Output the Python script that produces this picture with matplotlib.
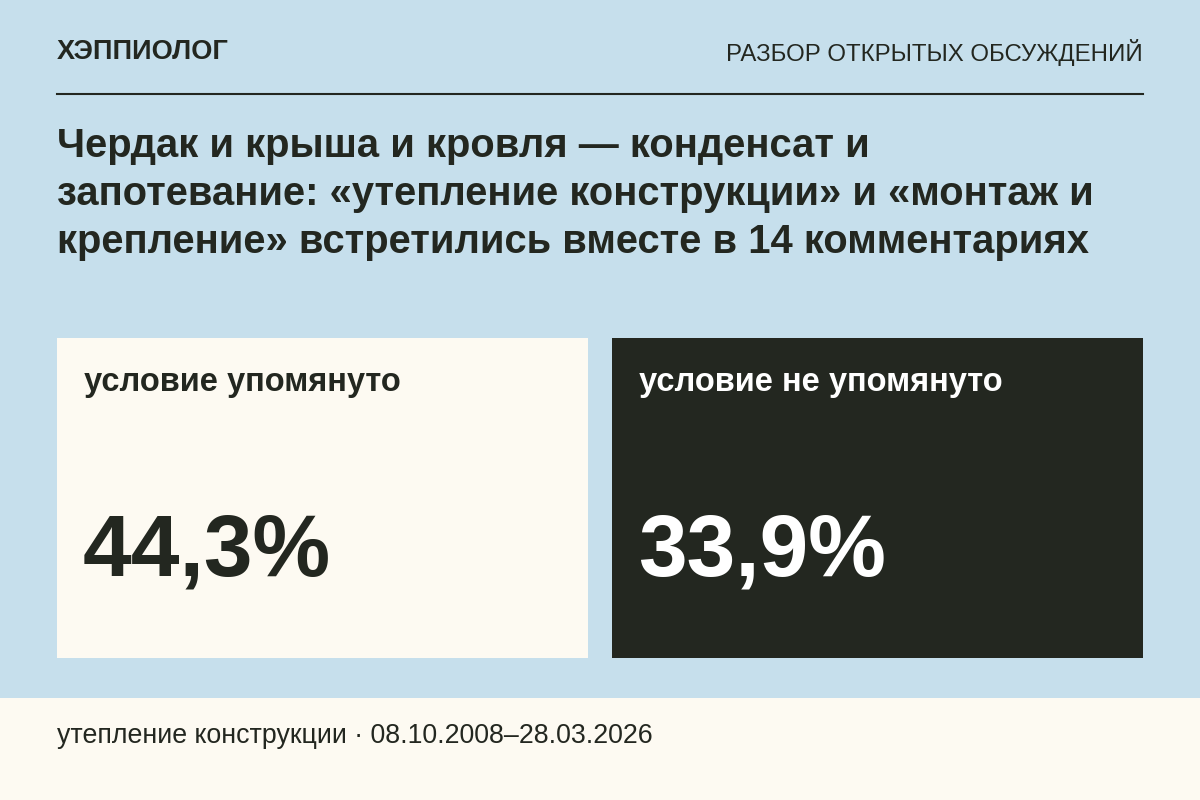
import matplotlib
matplotlib.use("Agg")
import matplotlib.pyplot as plt
from matplotlib.patches import Rectangle

plt.rcParams['font.family'] = ['Liberation Sans', 'DejaVu Sans']

brand = "ХЭППИОЛОГ"
section = "РАЗБОР ОТКРЫТЫХ ОБСУЖДЕНИЙ"
title_lines = ["Чердак и крыша и кровля — конденсат и",
               "запотевание: «утепление конструкции» и «монтаж и",
               "крепление» встретились вместе в 14 комментариях"]
labels = ["условие упомянуто", "условие не упомянуто"]
values = [44.3, 33.9]
footer = "утепление конструкции · 08.10.2008–28.03.2026"

BG = "#c6dfec"; CREAM = "#fdfaf2"; DARK = "#232720"

W, H = 1200, 800
fig = plt.figure(figsize=(12, 8), dpi=100)
fig.patch.set_facecolor(BG)
ax = fig.add_axes([0, 0, 1, 1])
ax.set_xlim(0, W); ax.set_ylim(H, 0); ax.axis('off')

ax.text(57, 52, brand, fontsize=19.5, fontweight='bold', color=DARK, va='center')
ax.text(1143, 52, section, fontsize=17.3, color=DARK, va='center', ha='right')
ax.plot([57, 1143], [94, 94], color=DARK, lw=1.5)
for i, t in enumerate(title_lines):
    ax.text(57, 146 + i * 48, t, fontsize=28.8, fontweight='bold', color=DARK, va='center')

boxes = [(57, CREAM, DARK), (612, DARK, "white")]
for (x0, fc, tc), lab, v in zip(boxes, labels, values):
    ax.add_patch(Rectangle((x0, 338), 531, 320, facecolor=fc, edgecolor='none'))
    ax.text(x0 + 27, 382, lab, fontsize=23.5, fontweight='bold', color=tc, va='center')
    ax.text(x0 + 26, 553, f"{v:.1f}%".replace('.', ','), fontsize=63, fontweight='bold',
            color=tc, va='center')

ax.add_patch(Rectangle((0, 698), W, 102, facecolor=CREAM, edgecolor='none'))
ax.text(57, 736, footer, fontsize=19.3, color=DARK, va='center')

fig.savefig("out.png", dpi=100, facecolor=BG)
